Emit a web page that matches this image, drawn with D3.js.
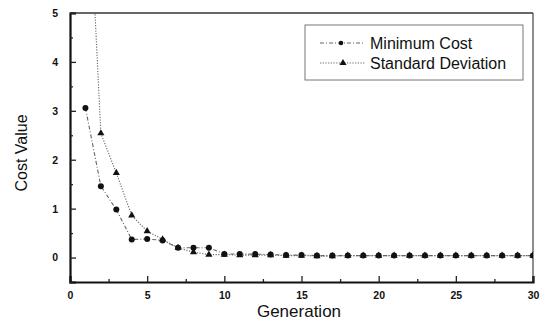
<!DOCTYPE html>
<html>
<head>
<meta charset="utf-8">
<script src="https://cdn.jsdelivr.net/npm/d3@7"></script>
<style>
  body { margin: 0; background: #fff; }
  text { font-family: "Liberation Sans", Arial, sans-serif; }
</style>
</head>
<body>
<script>
// data
var generations = d3.range(1, 31)
var minCost = [3.06, 1.46, 0.98, 0.37, 0.38, 0.35, 0.2, 0.2, 0.2, 0.075, 0.07, 0.07,
  0.06, 0.05, 0.05, 0.04, 0.04, 0.04, 0.04, 0.04, 0.04, 0.04, 0.04, 0.04, 0.04, 0.04, 0.04, 0.04, 0.04, 0.04]
var stdDev = [9.0, 2.54, 1.73, 0.86, 0.54, 0.37, 0.2, 0.11, 0.06, 0.06, 0.05, 0.05,
  0.05, 0.04, 0.04, 0.03, 0.03, 0.04, 0.04, 0.04, 0.04, 0.04, 0.04, 0.04, 0.04, 0.04, 0.04, 0.04, 0.04, 0.04]
var xTicks = [0, 5, 10, 15, 20, 25, 30]
var yTicks = [0, 1, 2, 3, 4, 5]
var seriesNames = ["Minimum  Cost", "Standard Deviation"]

var W = 544, H = 327
var margin = {top: 13, right: 11, bottom: 45, left: 70}
var width = W - margin.left - margin.right
var height = H - margin.top - margin.bottom

var x = d3.scaleLinear().domain([0, 30]).range([0, width])
var y = d3.scaleLinear().domain([-0.5, 5]).range([height, 0])

var svg = d3.select("body").append("svg")
  .attr("width", W).attr("height", H)
var g = svg.append("g")
  .attr("transform", "translate(" + margin.left + "," + margin.top + ")")

g.append("clipPath").attr("id", "clip")
  .append("rect").attr("width", width).attr("height", height)

// frame top/right
g.append("line").attr("x1", 0).attr("x2", width).attr("y1", 0).attr("y2", 0)
  .attr("stroke", "#333").attr("stroke-width", 1.5)
g.append("line").attr("x1", width).attr("x2", width).attr("y1", 0).attr("y2", height)
  .attr("stroke", "#444").attr("stroke-width", 1.2)

// axes, ticks inward
g.append("g").attr("transform", "translate(0," + height + ")")
  .call(d3.axisBottom(x).tickValues(xTicks).tickSize(-6).tickPadding(10).tickFormat(d3.format("d")))
g.append("g").attr("transform", "translate(0," + height + ")")
  .call(d3.axisBottom(x).tickValues(d3.range(2.5, 30, 5)).tickSize(-3).tickFormat(""))
  .call(s => s.select(".domain").remove())
g.append("g")
  .call(d3.axisLeft(y).tickValues(yTicks).tickSize(-6).tickPadding(12).tickFormat(d3.format("d")))
g.append("g")
  .call(d3.axisLeft(y).tickValues(d3.range(-0.5, 5, 1)).tickSize(-3).tickFormat(""))
  .call(s => s.select(".domain").remove())

g.selectAll(".domain").attr("stroke", "#111").attr("stroke-width", 2.2)
g.selectAll(".tick line").attr("stroke", "#222").attr("stroke-width", 1.3)
g.selectAll(".tick text").attr("font-size", 10.5).attr("font-weight", "bold").attr("fill", "#111")

// series
var ptsMin = generations.map((d, i) => ({g: d, v: minCost[i]}))
var ptsStd = generations.map((d, i) => ({g: d, v: stdDev[i]}))
var line = d3.line().x(d => x(d.g)).y(d => y(d.v))

var plot = g.append("g").attr("clip-path", "url(#clip)")
plot.append("path").datum(ptsStd).attr("d", line)
  .attr("fill", "none").attr("stroke", "#666").attr("stroke-width", 1.1)
  .attr("stroke-dasharray", "1.2,1.5")
plot.append("path").datum(ptsMin).attr("d", line)
  .attr("fill", "none").attr("stroke", "#666").attr("stroke-width", 1.1)
  .attr("stroke-dasharray", "4,2,1,2")

var tri = d3.symbol().type(d3.symbolTriangle).size(22)
plot.selectAll(".tri").data(ptsStd).enter().append("path")
  .attr("transform", d => "translate(" + x(d.g) + "," + y(d.v) + ")")
  .attr("d", tri).attr("fill", "#111")
plot.selectAll(".dot").data(ptsMin).enter().append("circle")
  .attr("cx", d => x(d.g)).attr("cy", d => y(d.v)).attr("r", 3)
  .attr("fill", "#111")

// legend
var lg = svg.append("g").attr("transform", "translate(305,25)")
lg.append("rect").attr("width", 218).attr("height", 55)
  .attr("fill", "#fff").attr("stroke", "#777").attr("stroke-width", 1)
var rows = lg.selectAll(".row").data(seriesNames).enter().append("g")
  .attr("transform", (d, i) => "translate(0," + (18 + i * 20) + ")")
rows.append("line").attr("x1", 15).attr("x2", 60).attr("y1", 0).attr("y2", 0)
  .attr("stroke", "#666").attr("stroke-width", 1.1)
  .attr("stroke-dasharray", (d, i) => i == 0 ? "4,2,1,2" : "1.2,1.5")
rows.each(function(d, i) {
  var r = d3.select(this)
  if (i == 0) r.append("circle").attr("cx", 36).attr("cy", 0).attr("r", 2.3).attr("fill", "#111")
  else r.append("path").attr("transform", "translate(38,0)").attr("d", tri).attr("fill", "#111")
})
rows.append("text").attr("x", 65).attr("dy", "0.35em")
  .attr("font-size", 16).attr("fill", "#111").text(d => d)

// axis titles
svg.append("text").attr("x", 299).attr("y", 317)
  .attr("text-anchor", "middle").attr("font-size", 17).attr("fill", "#111").text("Generation")
svg.append("text").attr("transform", "translate(27," + 153 + ") rotate(-90)")
  .attr("text-anchor", "middle").attr("font-size", 16).attr("fill", "#111").text("Cost Value")
</script>
</body>
</html>
